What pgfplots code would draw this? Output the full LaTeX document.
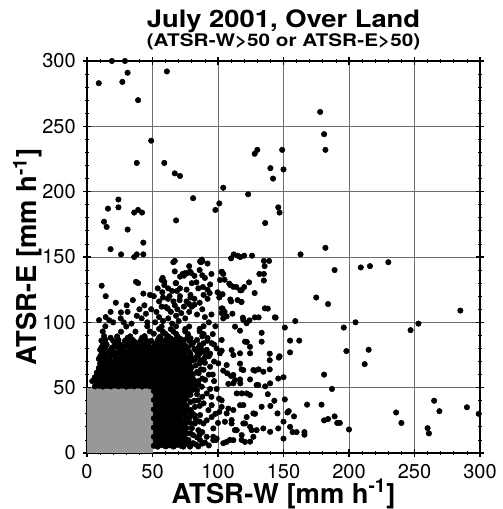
\documentclass[border=0pt]{standalone}
\usepackage{fontspec}
\setmainfont{TeX Gyre Heros}
\usepackage{graphicx}
\usepackage{pgfplots}
\pgfplotsset{compat=1.18}
\definecolor{boxgray}{RGB}{152,152,152}
\definecolor{gridgray}{RGB}{110,110,110}
\begin{document}
\begin{tikzpicture}
\begin{axis}[
  scale only axis, width=294.75pt, height=294pt,
  xmin=0, xmax=300, ymin=0, ymax=300,
  xtick={0,50,...,300}, ytick={0,50,...,300},
  minor tick num=4,
  tick align=center,
  major tick length=6pt, minor tick length=3pt,
  tick style={black, line width=0.8pt},
  minor tick style={black, line width=0.6pt},
  axis line style={line width=1.1pt},
  grid=major,
  major grid style={gridgray, line width=0.6pt},
  /pgf/number format/assume math mode=true,
  tick label style={font=\fontsize{15}{15}\selectfont},
  yticklabel style={xshift=-2pt},
  xticklabel style={yshift=-2pt},
  clip=false,
  xlabel={\fontsize{20.5}{20.5}\selectfont\bfseries ATSR-W [mm h\textsuperscript{-1}]},
  ylabel={\fontsize{20.5}{20.5}\selectfont\bfseries ATSR-E [mm h\textsuperscript{-1}]},
  xlabel style={at={([yshift=-37.5pt]axis description cs:0.5,0)}, anchor=base},
  ylabel style={at={([xshift=-37.7pt]axis description cs:0,0.5)}, anchor=base},
]
\addplot[only marks, mark=*, mark size=2.05pt, black] coordinates {
(19,300)(29,300)(31,291)(9,283)(27,284)(61,292)(39,270)(49,239)(38,222)(59,222)(67,214)(71,212)
(130,232)(128,229)(149,232)(150,217)(140,218)(142,210)(104,203)(123,198)(81,195)(101,191)(98,186)
(146,188)(147,184)(136,176)(68,178)(24,194)(16,187)(24,188)(36,184)(39,186)(42,184)(13,177)(15,173)
(31,171)(43,161)(18,156)(178,261)(181,244)(182,232)(182,157)(163,152)(26,152)(36,150)(38,152)(43,152)
(112,152)(115,151)(117,150)(120,151)(126,151)(110,149)(139,147)(67,147)(87,146)(88,147)(135,147)
(189,140)(209,142)(216,143)(230,146)(175,119)(184,114)(285,109)(159,101)(151,96)(196,96)(205,100)
(247,94)(253,99)(155,86)(162,86)(155,77)(147,74)(198,78)(215,79)(212,68)(150,58)(181,60)(187,49)
(151,41)(168,37)(179,37)(153,31)(154,32)(158,28)(150,24)(155,20)(157,16)(160,16)(166,14)(166,16)
(150,11)(189,28)(181,25)(184,26)(191,23)(193,23)(200,18)(236,31)(240,23)(265,40)(269,32)(260,19)
(261,15)(290,35)(299,30)
(102.8,138.7)(104,137)(101.5,132.4)(109.4,128.5)(111.7,127.2)(118,124.6)(120,127)(123.7,130.6)
(131.6,137)(135,137)(135,132)(135.6,143)(108.6,129.6)(114,127)(100.8,122)(109.4,117.5)(117.7,115.7)
(102.8,110.7)(102.8,107)(104,103)(119.3,101.8)(121.8,99.3)(128.1,103.8)(135.8,110.7)(143.4,103.8)
(138,110.5)(113,96.7)(116.8,93.6)(133.3,92)(133.3,85.2)(120.6,85.2)(102.8,86.5)(124.4,81.3)
(110.4,78.8)(111.7,75)(102.8,78.3)(116.8,68.4)(139.5,76)(146.4,73)(139.5,71)(131,64)(139.5,64)
(118,64)(101.5,76.3)(116.8,76.3)(124.5,76.3)(122,85)(100.2,68.6)(106.6,67.3)(107,61)(111.7,59.7)
(116.8,56.3)(124.5,56.3)(129.5,52)(107.9,52.9)(113,55.8)(119.3,63.5)(128.3,63)(104,63)(110,59)
(127,63.5)(134.6,62.2)(139.8,53.3)(136,51)(130.8,52)(117,53.3)(111.7,53.3)(114.3,45.6)(118.1,45.6)
(121.9,45.6)(124.4,44.3)(116.8,36.6)(121.9,27.5)(107.9,34)(105.3,23.9)(110.4,22.6)(114.3,17.5)
(118.1,13.7)(124.5,20)(120.7,22.6)(109.1,10)(104,7.5)(118,10)(124.5,8.7)(128.3,30)(127,12.4)
(129.5,17.5)(101,31.4)(100.8,41.6)(102.8,40.3)(102.8,35.3)(133.3,35.4)(127,30.3)(119.3,36.7)
(111.7,32.9)(106.6,30.3)(110.4,25.2)(119.3,22.6)(125.7,17.5)(134.6,18.8)(139.8,16.2)(146,18.8)
(112.9,17.5)(111.7,9.8)(106.6,8.5)(120.6,8.5)(145.4,30.3)(143,40)(138,45)(140,36)(146,57)
(144,103.6)(131,103.8)(124,101.5)(119,103.6)(111,106.6)(106.6,104.6)(105,108)(103.5,110.5)
(128,122.4)(118,115.6)(115,117)(110,116)(103.5,121.5)(101,119)(99.7,123)
(73.5,25)(78.6,27.5)(82.4,35.3)(85,40.3)(76,43)(80,48)(87.6,50.7)(90.2,56)(91.4,45.6)(92.7,32.8)
(88.9,22.6)(85,17.5)(81,13.7)(77.4,10)(86.3,10)(91.4,12.4)(73.5,4.9)(78.6,4.9)(76,15)(82.4,22.6)
(86.3,29)(91.4,25)(95.2,27.5)(71,12.4)(72.3,35.3)(75,50.7)(81.4,56)(85.2,61)(89,63.7)(94,66)
(78.6,65)(82.4,71.4)(86.3,76.4)(91.4,79)(95.2,84)(96.4,12.4)(98.5,10)(96.4,18.8)(95.2,36.6)
(96.4,9.8)(99,11)(83,6.5)(88,7.2)(93,5.8)(80,31)(84,45)(89,38)(94,49)(97,55)(93,60)(97,70)(99,80)
(93,74)(96,91)(98,97)(79,39)(74,20)(77,32)(83,26)(88,16)(95,43)(98,30)(100,23)(99,49)(96,60)
(85,55)(82,52)(90,69)(87,82)(92,88)
(75,103)(78,108)(80,112)(84,106)(88,110)(90,104)(86,115)(82,118)(74,112)(92,118)(95,106)(93,100)
(79,121)(89,121)(76,125)(71,120)(85,126)(80,130)(94,129)(90,134)(73,137)(86,140)(92,145)(78,143)
(74,135.7)(76,137.5)(79.4,137.8)(88,136)(95,137)(103,138.5)(105,132.6)(68,130)(71,126)(68.7,124)
(83.5,130.6)(88.5,127)(92,125)(117,124.5)(93.6,122.4)(70.7,117)(76,116)(79,119)(78,114)(82,113.5)
(60.3,111.7)(61.6,110.5)(57.5,123)(58,119)(61.8,118)(57.8,134)(59,131)(57,132.5)(59,128.5)
(67.7,130)(71,135)(74.8,137.6)(78.6,138.9)(82,135.6)(86.3,146.6)(87.6,148)(65.9,146)(67,139)
(52,100)(55,104)(58,101)(62,103)(65,99)(68,105)(53,108)(57,112)(64,108)(67,113)(70,101)(72,107)
(55,116)(63,120)(66,116)(69,110)(51,120)(54,126)(62,126)(65,124)
(11.2,128)(14.3,120)(37.4,131)(30.3,113)(31,108)(25.9,107.6)(25.7,103)(14.3,104)(9.2,101.7)
(43,122)(48,121)(43.8,113)(49,110)(45,106.6)(41.7,103)(34,99)(20,100)(18,108)(38,105)(46,100)
(28,100)(40,110)(35,117)(22,115)(39,130)(17,101.5)
(51,5.5)(54,4.8)(57,6)(60,5)(63,5.8)(66,4.9)(69,6.2)(72,5.4)(75,6.6)
(52.5,9)(55.5,8.6)(58.8,9.5)(62,8.8)(65,9.4)(68,8.5)(71,9.8)(77,8.7)(81,7.5)
(51,12.4)(54,13)(57,12)(60.5,12.8)(63.5,12.2)(66.5,13.1)(70,12.3)(74,13.4)
(52.5,16)(55.5,16.6)(59,15.8)(62,16.4)(65,15.9)(68.5,16.7)(72,16.1)
(51,19.5)(54,19.9)(57.5,19.2)(60.5,20)(63.5,19.4)(67,20.2)(70.5,19.6)(76,19)
(52.5,23)(56,23.5)(59,22.8)(62,23.4)(65.5,22.9)(69,23.6)(73,23.1)
(51,26.6)(54.5,26.2)(57.5,27)(61,26.4)(64,27.1)(67.5,26.3)(71,26.9)(78,27.4)
(52.5,30)(56,30.6)(59,29.8)(62.5,30.4)(65.5,29.9)(69,30.7)(72.5,30.1)
(51,33.4)(54.5,34)(58,33.2)(61,33.9)(64.5,33.3)(68,34.1)(71.5,33.6)(75,34.4)
(52.5,37)(56,37.5)(59.5,36.8)(62.5,37.4)(66,36.9)(69.5,37.6)(73,37.1)
(51,40.6)(54.5,40.1)(58,41)(61,40.4)(64.5,41.1)(68,40.3)(71.5,40.9)(76,41.5)
(52.5,44)(56,44.6)(59.5,43.8)(63,44.4)(66.5,43.9)(70,44.7)(73.5,44.1)(79,44.5)
(51,47.4)(54.5,48)(58,47.2)(61.5,47.9)(65,47.3)(68.5,48.1)(72,47.6)(75.5,47)
(53.5,7.2)(57,7.8)(60.5,7.1)(64,7.6)(67.5,7.3)(71,7.9)(74,8)(79,6)(85,5)(90,8)
(53,11)(56.5,10.6)(60,11.3)(63.5,10.8)(67,11.2)(70.5,10.7)(75,11)(84,12)
(53.5,14.5)(57,14.2)(60.5,14.9)(64,14.3)(67.5,14.8)(71,14.4)(79,15)(86,14)
(53,18)(56.5,18.4)(60,17.7)(63.5,18.3)(67,17.8)(70.5,18.4)(74,17.2)(80,19)
(53.5,21.5)(57,21.2)(60.5,21.8)(64,21.3)(67.5,21.9)(71,21.2)(75,22.5)(79,23)
(53,25)(56.5,25.4)(60,24.7)(63.5,25.3)(67,24.8)(70.5,25.4)(76,25.5)(86,24)
(53.5,28.5)(57,28.1)(60.5,28.8)(64,28.3)(67.5,28.9)(71,28.2)(75,29)(82,29)
(53,32)(56.5,32.4)(60,31.7)(63.5,32.3)(67,31.8)(70.5,32.4)(74,31.5)(79,33)
(53.5,35.5)(57,35.2)(60.5,35.8)(64,35.3)(67.5,35.9)(71,35.2)(76,36)(86,36)
(53,39)(56.5,39.4)(60,38.7)(63.5,39.3)(67,38.8)(70.5,39.4)(74,39)(82,40)
(53.5,42.5)(57,42.1)(60.5,42.8)(64,42.3)(67.5,42.9)(71,42.2)(75,43)(88,43)
(53,46)(56.5,46.4)(60,45.7)(63.5,46.3)(67,45.8)(70.5,46.4)(74,45.5)(78,47)(84,48)
(53.5,49.3)(57,49.6)(60.5,49.1)(64,49.5)(67.5,49.2)(71,49.7)(77,49.5)(82,49)
(6,51)(9,51.5)(12,50.8)(15,51.4)(18,50.9)(21,51.6)(24,51)(27,51.5)(30,50.8)(33,51.4)(36,51)
(39,51.6)(42,50.9)(45,51.5)(48,51)
(4,55)(7.5,54.3)(10.5,54.8)(13.5,54.2)(16.5,54.9)(19.5,54.4)(22.5,55)(25.5,54.3)(28.5,54.9)
(31.5,54.4)(34.5,55)(37.5,54.3)(40.5,54.9)(43.5,54.4)(46.5,55)(49.5,54.4)
(6,58)(9,58.6)(12,57.8)(15,58.4)(18,57.9)(21,58.6)(24,58.1)(27,58.5)(30,57.8)(33,58.4)(36,58)
(39,58.6)(42,57.9)(45,58.5)(48,58.1)
(7.5,61.5)(10.5,62)(13.5,61.2)(16.5,61.8)(19.5,61.3)(22.5,62)(25.5,61.4)(28.5,61.9)(31.5,61.2)
(34.5,61.8)(37.5,61.4)(40.5,62)(43.5,61.3)(46.5,61.9)(49.5,61.4)
(9,65)(12,65.5)(15,64.8)(18,65.4)(21,64.9)(24,65.5)(27,65)(30,65.4)(33,64.8)(36,65.5)(39,65)
(42,65.3)(45,64.9)(48,65.5)
(7.5,52.8)(10.5,53.1)(13.5,52.6)(16.5,53)(19.5,52.7)(22.5,53.2)(25.5,52.6)(28.5,53)(31.5,52.8)
(34.5,53.1)(37.5,52.6)(40.5,53)(43.5,52.7)(46.5,53.2)(49.5,52.6)
(5.5,56.5)(9,56.2)(12,56.6)(15,56)(18,56.5)(21,56.1)(24,56.6)(27,56.2)(30,56.5)(33,56)(36,56.6)
(39,56.1)(42,56.5)(45,56.2)(48,56.6)
(7.5,59.8)(10.5,60.2)(13.5,59.6)(16.5,60.1)(19.5,59.7)(22.5,60.2)(25.5,59.6)(28.5,60)(31.5,59.8)
(34.5,60.2)(37.5,59.6)(40.5,60)(43.5,59.7)(46.5,60.2)(49.5,59.6)
(9,63.3)(12,63.7)(15,63.1)(18,63.6)(21,63.2)(24,63.7)(27,63.1)(30,63.5)(33,63.3)(36,63.7)(39,63.1)
(42,63.5)(45,63.2)(48,63.7)
(10.5,66.8)(13.5,67.2)(16.5,66.6)(19.5,67.1)(22.5,66.7)(25.5,67.2)(28.5,66.6)(31.5,67)(34.5,66.8)
(37.5,67.2)(40.5,66.6)(43.5,67)(46.5,66.7)(49.5,67.2)
(11,70.3)(14.5,70.7)(18.5,70.1)(21.5,70.6)(26.5,70.2)(30.5,70.7)(33.5,70.1)(37.5,70.5)(40.5,70.3)
(44.5,70.7)(47.5,70.1)
(10,73.8)(13.5,74.2)(17.5,73.6)(21,74.1)(24,73.7)(27,74.2)(30,73.6)(34,74)(37.5,73.8)(41,74.2)
(44,73.6)(47,74)(50,73.7)
(12,77.3)(16,77.7)(21,77.1)(26,77.6)(30,77.2)(35,77.7)(39,77.1)(42,77.5)(46,77.3)(49,77.7)
(11,80.8)(14,81.2)(19,80.6)(23,81.1)(27,80.7)(32,81.2)(36,80.6)(41,81)(45,80.8)(48,81.2)
(13,84.3)(22,84.1)(32,84.2)(37,84.7)(47,84.5)
(18,88.2)(31,88.1)(42,88.2)
(51,51)(54,51.4)(57,50.8)(60,51.5)(63,51)(66,51.4)(69,50.9)(72,51.6)(75,51)(78,51.5)
(52.5,54.5)(55.5,54.9)(58.5,54.2)(61.5,54.8)(64.5,54.3)(67.5,55)(70.5,54.4)(73.5,54.9)(77,54.3)(82,55)
(51,58)(54,58.5)(57,57.8)(60,58.4)(63,57.9)(66,58.6)(69,58)(72,58.5)(75,57.8)(79,58.4)
(52.5,61.5)(55.5,62)(58.5,61.2)(61.5,61.8)(64.5,61.3)(67.5,62)(70.5,61.4)(73.5,61.9)(77,61.2)(84,62)
(51,65)(54,65.5)(57,64.8)(60,65.4)(63,64.9)(66,65.5)(69,65)(72,65.4)(76,64.8)(80,65.6)
(52.5,52.8)(55.5,53.1)(58.5,52.6)(61.5,53)(64.5,52.7)(67.5,53.2)(70.5,52.6)(73.5,53)(76.5,52.8)
(80,53.1)(85,52.5)
(51,56.5)(54,56.2)(57,56.6)(60,56)(63,56.5)(66,56.1)(69,56.6)(72,56.2)(75,56.5)(78,56)(88,57)
(52.5,59.8)(55.5,60.2)(58.5,59.6)(61.5,60.1)(64.5,59.7)(67.5,60.2)(70.5,59.6)(73.5,60)(76.5,59.8)(81,60.2)
(51,63.3)(54,63.7)(57,63.1)(60,63.6)(63,63.2)(66,63.7)(69,63.1)(72,63.5)(75,63.3)(79,63.7)(87,64)
(52.5,66.8)(55.5,67.2)(58.5,66.6)(61.5,67.1)(64.5,66.7)(67.5,67.2)(70.5,66.6)(73.5,67)(77,66.8)(83,67)
(51.5,70.3)(54.5,70.7)(57.5,70.1)(60.5,70.6)(63.5,70.2)(66.5,70.7)(69.5,70.1)(72.5,70.5)(76,70.3)
(80,70.7)(87,71)
(53,73.8)(56.5,74.2)(59.5,73.6)(62.5,74.1)(65.5,73.7)(68.5,74.2)(71.5,73.6)(75,74)(79,73.8)(84,74)
(52,77.3)(55,77.7)(58,77.1)(61,77.6)(64,77.2)(67.5,77.7)(70.5,77.1)(74,77.5)(78,77.3)(84,77.5)(90,77)
(51,80.8)(54,81.2)(57,80.6)(60,81.1)(63,80.7)(66,81.2)(69.5,80.6)(73,81)(77,80.8)(85,80.4)
(53,84.3)(59.5,84.1)(65.5,84.2)(72.5,84.1)(81,84.3)(89,84)
(55,88.2)(64,87.7)(71,87.6)(79,87.8)
(51,91.3)(60,91.1)(68,91.2)(77,91.1)(89,91)
(55,95)(64,94.8)(75,94.9)(86,95)
(10,68.5)(13,69)(17,68.2)(20,68.8)(24,68.3)(27,69)(30,68.4)(34,68.9)(37,68.2)(41,68.8)(44,68.4)
(47,69)(50,68.3)(53,68.9)(56,68.2)(59,68.8)(62,68.4)(65,69)(68,68.3)(71,68.9)(74,68.5)(78,69)(86,68.6)
(9,72)(12,72.6)(16,71.8)(22,72.4)(25,71.9)(29,72.6)(32,72)(36,72.5)(39,71.8)(43,72.4)(46,72)
(49,72.6)(52,72)(55,72.5)(58,71.8)(61,72.4)(64,72)(67,72.6)(70,72)(73,72.5)(77,71.8)(81,72.4)(90,73)
(11,75.5)(14,76)(19,75.2)(23,75.8)(27,75.3)(31,76)(35,75.4)(38,75.9)(42,75.2)(45,75.8)(48,75.3)
(51,76)(54,75.4)(57,75.9)(60,75.2)(63,75.8)(66,75.3)(70,76)(74,75.4)(79,75.9)(85,75)(94,76)
(10,79)(13,79.6)(18,78.8)(25,79.4)(28,78.9)(33,79.6)(37,79)(40,79.5)(44,78.8)(47,79.4)(50,79)
(53,79.6)(56,79)(59,79.5)(62,78.8)(66,79.4)(69,79)(72,79.6)(76,79)(82,79.5)(88,78.6)
(12,82.5)(15,83)(21,82.2)(26,82.8)(30,82.3)(34,83)(39,82.4)(43,82.9)(46,82.2)(52,82.8)(55,82.3)
(58,83)(61,82.4)(64,82.9)(68,82.2)(71,82.8)(75,82.3)(80,83)(86,82.5)(97,83)
(11,86)(14,86.5)(20,85.8)(24,86.4)(29,85.9)(35,86.5)(41,86)(45,86.5)(49,85.8)(54,86.4)(57,85.9)
(60,86.6)(63,86)(67,86.5)(70,85.8)(74,86.4)(78,85.9)(84,86.5)(92,86)
(13,89.5)(23,89.2)(33,89.3)(44,89.4)(56,89.2)(62,89.3)(69,89.4)(77,89.2)(88,89.3)
(12,93)(26,92.8)(37,92.9)(48,93)(58,92.8)(66,92.9)(75,93)(86,93)
(14,97)(30,96.8)(46,97)(57,96.8)(68,97)(78,96.8)(89,97)
};
\addplot[draw=none, fill=boxgray] coordinates {(0,0) (0,50) (50,50) (50,0)} -- cycle;
\node[anchor=base] at ([yshift=25pt]rel axis cs:0.5,1) {\resizebox{205pt}{\height}{\fontsize{18}{18}\selectfont\bfseries July 2001, Over Land}};
\node[anchor=base] at ([yshift=11pt]rel axis cs:0.5,1) {\resizebox{205pt}{\height}{\fontsize{13}{13}\selectfont\bfseries (ATSR-W>50 or ATSR-E>50)}};
\end{axis}
\pgfresetboundingbox
\path ([xshift=-65.25pt,yshift=-42pt]current axis.south west) rectangle ([xshift=16.5pt,yshift=45.75pt]current axis.north east);
\end{tikzpicture}
\end{document}
